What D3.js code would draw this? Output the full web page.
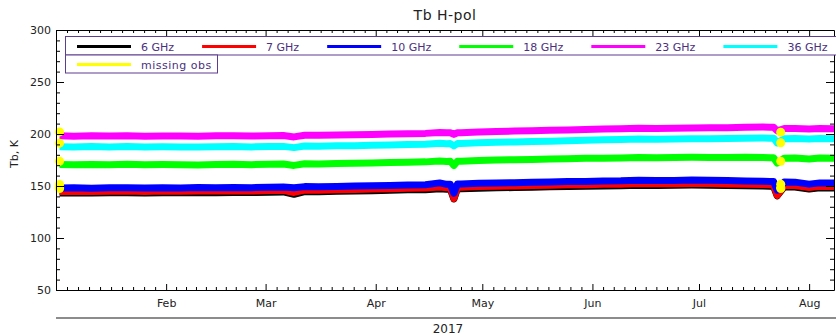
<!DOCTYPE html>
<html>
<head>
<meta charset="utf-8">
<script src="https://cdn.jsdelivr.net/npm/d3@7"></script>
<style>
  body { margin: 0; background: #fff; }
  svg { display: block; font-family: 'DejaVu Sans', sans-serif; }
</style>
</head>
<body>
<svg id="chart" width="836" height="335"></svg>
<script>
// observation dates (2017)
const dates = [
  '2017-01-02', '2017-01-06', '2017-01-11', '2017-01-16', '2017-01-21', '2017-01-26', '2017-01-31',
  '2017-02-05', '2017-02-10', '2017-02-15', '2017-02-20', '2017-02-25',
  '2017-03-02', '2017-03-06', '2017-03-09', '2017-03-12', '2017-03-16', '2017-03-21', '2017-03-26', '2017-03-31',
  '2017-04-05', '2017-04-10', '2017-04-15', '2017-04-19', '2017-04-21', '2017-04-22', '2017-04-23', '2017-04-24', '2017-04-25', '2017-04-30',
  '2017-05-05', '2017-05-10', '2017-05-15', '2017-05-20', '2017-05-25', '2017-05-30',
  '2017-06-04', '2017-06-09', '2017-06-14', '2017-06-19', '2017-06-24', '2017-06-29',
  '2017-07-04', '2017-07-09', '2017-07-14', '2017-07-19', '2017-07-21', '2017-07-22', '2017-07-23', '2017-07-25', '2017-07-28',
  '2017-08-01', '2017-08-04', '2017-08-08'
];

const tb6 = [
  143.3, 143.5, 143.2, 143.5, 143.6, 143.3, 143.6,
  143.4, 143.7, 143.6, 143.8, 143.7,
  144.1, 144.3, 142.0, 144.6, 144.5, 144.9, 145.1, 145.5,
  145.8, 146.3, 146.5, 147.3, 146.9, 147.0, 137.5, 147.2, 147.3, 147.9,
  148.3, 148.5, 148.9, 149.2, 149.6, 149.7,
  150.1, 150.3, 150.8, 150.6, 150.7, 150.9,
  150.8, 150.5, 150.2, 149.9, 149.7, 149.6, 140.5, 149.1, 149.0,
  147.0, 148.3, 148.1
];
const tb7 = [
  144.8, 145.0, 144.7, 145.0, 145.1, 144.8, 145.1,
  144.9, 145.2, 145.1, 145.3, 145.2,
  145.6, 145.8, 143.8, 146.1, 146.0, 146.4, 146.6, 147.0,
  147.3, 147.8, 148.0, 149.0, 148.4, 148.5, 138.0, 148.7, 148.8, 149.4,
  149.8, 150.0, 150.4, 150.7, 151.1, 151.2,
  151.6, 151.8, 152.3, 152.1, 152.2, 152.4,
  152.3, 152.0, 151.7, 151.4, 151.2, 151.1, 141.0, 150.6, 150.5,
  148.6, 149.8, 149.6
];
const tb10 = [
  148.0, 148.3, 147.9, 148.2, 148.4, 148.0, 148.3,
  148.1, 148.5, 148.3, 148.6, 148.4,
  148.9, 149.0, 148.3, 149.4, 149.2, 149.6, 149.9, 150.3,
  150.6, 151.0, 151.2, 153.0, 151.6, 151.7, 143.0, 151.9, 152.0, 152.6,
  153.0, 153.2, 153.6, 153.9, 154.3, 154.4,
  154.8, 155.0, 155.6, 155.3, 155.4, 155.7,
  155.5, 155.3, 154.9, 154.6, 154.4, 154.3, 146.0, 153.8, 153.7,
  151.8, 153.0, 152.8
];
const tb18 = [
  170.6, 170.4, 170.7, 170.5, 170.8, 170.4, 170.6,
  170.5, 170.3, 170.6, 170.8, 170.5,
  170.9, 171.1, 169.8, 171.4, 171.2, 171.6, 171.8, 172.2,
  172.5, 172.9, 173.2, 174.0, 173.6, 173.7, 169.7, 173.8, 173.9, 174.6,
  175.0, 175.3, 175.6, 175.9, 176.2, 176.6,
  176.8, 177.0, 177.5, 177.2, 177.4, 177.6,
  177.5, 177.3, 177.6, 177.4, 177.2, 177.1, 172.0, 176.8, 177.0,
  176.0, 176.9, 176.7
];
const tb23 = [
  198.3, 197.9, 198.2, 198.0, 198.3, 197.9, 198.1,
  198.0, 197.8, 198.2, 198.3, 198.0,
  198.4, 198.5, 197.2, 198.8, 198.7, 199.0, 199.2, 199.5,
  199.9, 200.3, 200.6, 201.5, 201.1, 201.2, 199.6, 201.2, 201.3, 202.0,
  202.4, 202.8, 203.2, 203.5, 203.9, 204.3,
  204.8, 205.1, 205.6, 205.4, 205.6, 205.8,
  205.9, 206.1, 206.4, 206.7, 206.6, 206.5, 203.0, 205.2, 205.4,
  204.8, 205.2, 205.0
];
const tb36 = [
  187.8, 187.5, 187.9, 187.6, 187.9, 187.5, 187.7,
  187.6, 187.4, 187.8, 187.9, 187.6,
  188.0, 188.1, 186.9, 188.4, 188.3, 188.6, 188.8, 189.1,
  189.5, 189.9, 190.2, 191.0, 190.7, 190.8, 188.6, 190.8, 190.9, 191.6,
  192.0, 192.4, 192.8, 193.1, 193.5, 193.9,
  194.4, 194.7, 195.2, 195.0, 195.3, 195.5,
  195.4, 195.6, 195.9, 196.1, 196.0, 196.0, 191.5, 195.4, 195.6,
  195.1, 195.6, 195.5
];

// missing observations, one value per channel at each date
const missingDates = ['2017-01-02', '2017-07-24'];
const missing6 = [147.5, 147.5];
const missing7 = [148.5, 148.5];
const missing10 = [151.5, 151.8];
const missing18 = [173.8, 173.8];
const missing23 = [202.0, 201.8];
const missing36 = [191.2, 191.6];

const channels = ['6 GHz', '7 GHz', '10 GHz', '18 GHz', '23 GHz', '36 GHz'];
const yTicks = [50, 100, 150, 200, 250, 300];
const monthTicks = ['2017-02-01', '2017-03-01', '2017-04-01', '2017-05-01', '2017-06-01', '2017-07-01', '2017-08-01'];

const colors = ['#000000', '#ff0000', '#0000ff', '#00ff00', '#ff00ff', '#00ffff'];
const missingColor = '#ffff00';
const legendInk = '#4b3080';

const parseDate = d3.timeParse('%Y-%m-%d');
const svg = d3.select('#chart');
const margin = { top: 30, right: 2, bottom: 45, left: 56 };
const width = 836 - margin.left - margin.right;
const height = 335 - margin.top - margin.bottom;

svg.append('rect').attr('width', 836).attr('height', 335).attr('fill', '#fff');

const g = svg.append('g').attr('transform', `translate(${margin.left},${margin.top})`);

const x = d3.scaleTime()
  .domain([parseDate('2017-01-01'), parseDate('2017-08-08')])
  .range([0, width]);
const y = d3.scaleLinear()
  .domain([50, 300])
  .range([height, 0]);

const dateObjs = dates.map(parseDate);
const series = [tb6, tb7, tb10, tb18, tb23, tb36].map((vals, i) => ({
  name: channels[i],
  values: vals.map((v, j) => ({ date: dateObjs[j], tb: v }))
}));
const missingVals = [missing6, missing7, missing10, missing18, missing23, missing36];

g.append('clipPath').attr('id', 'plot-clip')
  .append('rect').attr('width', width).attr('height', height);

const line = d3.line()
  .x(d => x(d.date))
  .y(d => y(d.tb));

g.append('g').attr('clip-path', 'url(#plot-clip)')
  .selectAll('path')
  .data(series)
  .enter()
  .append('path')
  .attr('fill', 'none')
  .attr('stroke', (d, i) => colors[i])
  .attr('stroke-width', 7)
  .attr('stroke-linejoin', 'round')
  .attr('d', d => line(d.values));

// yellow markers for missing obs
const missingPts = [];
missingVals.forEach(vals => vals.forEach((v, j) => missingPts.push({ date: parseDate(missingDates[j]), tb: v })));
g.append('g').selectAll('circle')
  .data(missingPts)
  .enter()
  .append('circle')
  .attr('cx', d => x(d.date))
  .attr('cy', d => y(d.tb))
  .attr('r', 4.5)
  .attr('fill', missingColor);

// minor ticks
const yMinor = d3.range(60, 300, 10).filter(v => v % 50 !== 0);
const monthStarts = d3.timeMonth.range(parseDate('2017-01-01'), parseDate('2017-09-01'));
const xMinor = [];
for (let m = 0; m < monthStarts.length - 1; m++) {
  const a = +monthStarts[m], b = +monthStarts[m + 1];
  for (let k = 1; k < 10; k++) {
    const t = new Date(a + (b - a) * k / 10);
    if (t <= x.domain()[1]) xMinor.push(t);
  }
}
const xMajor = monthTicks.map(parseDate);

function styleAxis(sel) {
  sel.attr('font-family', 'DejaVu Sans').attr('font-size', 11);
  sel.selectAll('line').attr('stroke', '#000');
  sel.selectAll('path').attr('stroke', '#000');
  sel.selectAll('text').attr('fill', '#222');
}

g.append('g')
  .call(d3.axisLeft(y).tickValues(yTicks).tickSize(-8).tickSizeOuter(0).tickPadding(5))
  .call(styleAxis);
g.append('g')
  .call(d3.axisLeft(y).tickValues(yMinor).tickSize(-4).tickFormat(''))
  .call(styleAxis)
  .select('.domain').remove();

g.append('g')
  .attr('transform', `translate(${width},0)`)
  .call(d3.axisRight(y).tickValues(yTicks).tickSize(-8).tickSizeOuter(0).tickFormat(''))
  .call(styleAxis);
g.append('g')
  .attr('transform', `translate(${width},0)`)
  .call(d3.axisRight(y).tickValues(yMinor).tickSize(-4).tickFormat(''))
  .call(styleAxis)
  .select('.domain').remove();

g.append('g')
  .attr('transform', `translate(0,${height})`)
  .call(d3.axisBottom(x).tickValues(xMajor).tickSize(-6).tickSizeOuter(0).tickPadding(9)
    .tickFormat(d3.timeFormat('%b')))
  .call(styleAxis);
g.append('g')
  .attr('transform', `translate(0,${height})`)
  .call(d3.axisBottom(x).tickValues(xMinor).tickSize(-3).tickFormat(''))
  .call(styleAxis)
  .select('.domain').remove();

g.append('g')
  .call(d3.axisTop(x).tickValues(xMajor).tickSize(-6).tickSizeOuter(0).tickFormat(''))
  .call(styleAxis);
g.append('g')
  .call(d3.axisTop(x).tickValues(xMinor).tickSize(-3).tickFormat(''))
  .call(styleAxis)
  .select('.domain').remove();

// year level under the month axis
g.append('line')
  .attr('x1', 0).attr('x2', 836 - margin.left)
  .attr('y1', 288).attr('y2', 288)
  .attr('stroke', '#8c8c8c')
  .attr('stroke-width', 2);
g.append('text')
  .attr('x', width / 2 + 3)
  .attr('y', 303)
  .attr('text-anchor', 'middle')
  .attr('font-size', 12)
  .attr('fill', '#222')
  .text('2017');

// title and y label
svg.append('text')
  .attr('x', margin.left + width / 2)
  .attr('y', 20)
  .attr('text-anchor', 'middle')
  .attr('font-size', 14)
  .attr('letter-spacing', 0.5)
  .attr('fill', '#222')
  .text('Tb H-pol');

svg.append('text')
  .attr('transform', 'translate(18,154) rotate(-90)')
  .attr('text-anchor', 'middle')
  .attr('font-size', 11)
  .attr('fill', '#222')
  .text('Tb, K');

// legend
const legend = svg.append('g');
legend.append('rect')
  .attr('x', 65.5).attr('y', 36.5)
  .attr('width', 790).attr('height', 18.5)
  .attr('fill', '#fff')
  .attr('stroke', '#5c3d8f');
legend.append('rect')
  .attr('x', 65.5).attr('y', 55)
  .attr('width', 152).attr('height', 18)
  .attr('fill', '#fff')
  .attr('stroke', '#5c3d8f');

let xPos = 77;
channels.forEach((name, i) => {
  legend.append('line')
    .attr('x1', xPos).attr('x2', xPos + 54)
    .attr('y1', 46.5).attr('y2', 46.5)
    .attr('stroke', colors[i])
    .attr('stroke-width', 3);
  const t = legend.append('text')
    .attr('x', xPos + 64)
    .attr('y', 50.5)
    .attr('font-size', 11)
    .attr('fill', legendInk)
    .text(name);
  xPos = xPos + 64 + t.node().getComputedTextLength() + 28;
});

legend.append('line')
  .attr('x1', 77).attr('x2', 131)
  .attr('y1', 64.5).attr('y2', 64.5)
  .attr('stroke', missingColor)
  .attr('stroke-width', 3);
legend.append('text')
  .attr('x', 141)
  .attr('y', 68.5)
  .attr('font-size', 11)
  .attr('letter-spacing', 0.5)
  .attr('fill', legendInk)
  .text('missing obs');
</script>
</body>
</html>
